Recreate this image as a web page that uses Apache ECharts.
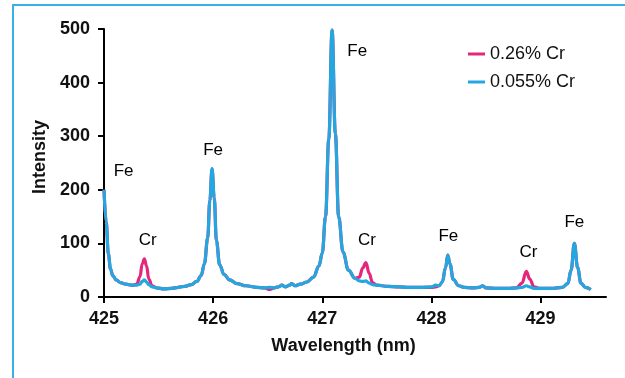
<!DOCTYPE html>
<html>
<head>
<meta charset="utf-8">
<script src="https://cdn.jsdelivr.net/npm/echarts@6/dist/echarts.min.js"></script>
<style>
  html, body { margin: 0; padding: 0; background: #fff; }
  #main { width: 625px; height: 378px; }
</style>
</head>
<body>
<div id="main"></div>
<script>
// wavelength (nm) shared by both spectra
var wavelengths = [
  425.00, 425.02, 425.04, 425.06, 425.08, 425.11, 425.15, 425.20, 425.26, 425.30,
  425.33, 425.35, 425.37, 425.39, 425.41, 425.44, 425.48, 425.55, 425.62, 425.68,
  425.74, 425.80, 425.85, 425.89, 425.92, 425.95, 425.97, 425.99, 426.01, 426.03,
  426.06, 426.10, 426.15, 426.22, 426.30, 426.40, 426.47, 426.52, 426.56, 426.60,
  426.63, 426.66, 426.70, 426.72, 426.75, 426.80, 426.86, 426.92, 426.97, 427.00,
  427.03, 427.06, 427.09, 427.12, 427.15, 427.19, 427.24, 427.30, 427.34, 427.37,
  427.40, 427.43, 427.46, 427.50, 427.60, 427.70, 427.80, 427.90, 428.00, 428.04,
  428.07, 428.10, 428.13, 428.15, 428.17, 428.20, 428.25, 428.30, 428.38, 428.44,
  428.47, 428.50, 428.60, 428.70, 428.78, 428.83, 428.87, 428.90, 428.94, 429.00,
  429.10, 429.20, 429.25, 429.28, 429.31, 429.34, 429.37, 429.41, 429.46
];
// 0.055% Cr
var lowCr = [
  200, 140, 80, 52, 40, 32, 27, 24, 22, 22,
  24, 29, 32, 28, 23, 19, 17, 15, 16, 18,
  20, 23, 29, 40, 62, 110, 180, 240, 185, 105,
  60, 42, 32, 25, 21, 18, 17, 18, 17, 19,
  22, 19, 22, 25, 21, 24, 28, 37, 58, 82,
  150, 295, 498, 305, 150, 84, 50, 35, 30, 29,
  30, 26, 23, 22, 20, 19, 18, 18, 19, 22,
  21, 28, 55, 78, 62, 33, 21, 18, 17, 18,
  21, 17, 16, 16, 17, 18, 21, 19, 16, 16,
  16, 18, 25, 50, 100, 55, 26, 18, 14
];
// 0.26% Cr
var highCr = [
  200, 140, 80, 52, 40, 32, 27, 24, 22, 24,
  38, 62, 71, 58, 34, 21, 17, 15, 16, 18,
  20, 23, 29, 40, 62, 110, 180, 238, 185, 105,
  60, 42, 32, 25, 21, 18, 17, 14, 17, 19,
  22, 19, 22, 25, 21, 24, 28, 37, 58, 82,
  150, 295, 498, 305, 150, 84, 50, 35, 37, 54,
  64, 44, 27, 22, 20, 19, 18, 18, 18, 19,
  21, 28, 55, 78, 62, 33, 21, 18, 17, 18,
  21, 17, 16, 16, 17, 26, 48, 34, 19, 16,
  16, 18, 25, 50, 100, 55, 26, 18, 14
];

var xTicks = [425, 426, 427, 428, 429];

// peak labels
var peakText = ['Fe', 'Cr', 'Fe', 'Fe', 'Cr', 'Fe', 'Cr', 'Fe'];
var peakX = [425.18, 425.40, 426.00, 427.32, 427.41, 428.155, 428.89, 429.31];
var peakY = [234, 105, 273, 458, 105, 113, 84, 140];

var seriesNames = ['0.26% Cr', '0.055% Cr'];
var colors = ['#e6267b', '#22a7e0'];

var myChart = echarts.init(document.getElementById('main'));

function pairs(ys) {
    return wavelengths.map(function (w, i) { return [w, ys[i]]; });
}

var option = {
    animation: false,
    textStyle: { fontFamily: 'Liberation Sans' },
    grid: { left: 104, right: 19, top: 29, bottom: 81 },
    legend: {
        data: seriesNames,
        orient: 'vertical',
        left: 468,
        top: 44,
        padding: 0,
        icon: 'rect',
        itemWidth: 17,
        itemHeight: 3,
        itemGap: 8,
        textStyle: { fontSize: 18, color: '#111', lineHeight: 20 }
    },
    xAxis: {
        type: 'value',
        min: 425,
        max: 429.6,
        interval: 1,
        name: 'Wavelength (nm)',
        nameLocation: 'middle',
        nameGap: 40,
        nameTextStyle: { fontSize: 18, fontWeight: 'bold', color: '#111', padding: [0, 23, 0, 0] },
        axisLine: { lineStyle: { color: '#000', width: 2 } },
        axisTick: { length: 6, lineStyle: { color: '#000', width: 2 }, customValues: xTicks },
        axisLabel: { fontSize: 18, fontWeight: 'bold', color: '#111', margin: 13, customValues: xTicks },
        splitLine: { show: false }
    },
    yAxis: {
        type: 'value',
        min: 0,
        max: 500,
        interval: 100,
        name: 'Intensity',
        nameLocation: 'middle',
        nameGap: 52,
        nameTextStyle: { fontSize: 18, fontWeight: 'bold', color: '#111', padding: [0, 0, 0, 12] },
        axisLine: { show: true, lineStyle: { color: '#000', width: 2 } },
        axisTick: { show: true, length: 6, lineStyle: { color: '#000', width: 2 } },
        axisLabel: { fontSize: 18, fontWeight: 'bold', color: '#111', margin: 14 },
        splitLine: { show: false }
    },
    graphic: [{
        type: 'rect',
        shape: { x: 13, y: 5, width: 800, height: 600 },
        style: { fill: 'none', stroke: '#38b2e6', lineWidth: 2 },
        silent: true
    }],
    series: [
        {
            name: seriesNames[0],
            type: 'line',
            data: pairs(highCr),
            showSymbol: false,
            smooth: 0.4,
            smoothMonotone: 'x',
            color: colors[0],
            lineStyle: { width: 3.2, color: colors[0] }
        },
        {
            name: seriesNames[1],
            type: 'line',
            data: pairs(lowCr),
            showSymbol: false,
            smooth: 0.4,
            smoothMonotone: 'x',
            color: colors[1],
            lineStyle: { width: 3.2, color: colors[1] }
        },
        {
            name: 'labels',
            type: 'scatter',
            symbolSize: 0,
            silent: true,
            itemStyle: { opacity: 1 },
            data: peakX.map(function (x, i) { return [x, peakY[i], peakText[i]]; }),
            label: {
                show: true,
                position: 'inside',
                fontSize: 17,
                color: '#000',
                opacity: 1,
                formatter: function (p) { return p.data[2]; }
            }
        }
    ]
};

myChart.setOption(option);

window.onresize = function () {
    myChart.resize();
};
</script>
</body>
</html>
